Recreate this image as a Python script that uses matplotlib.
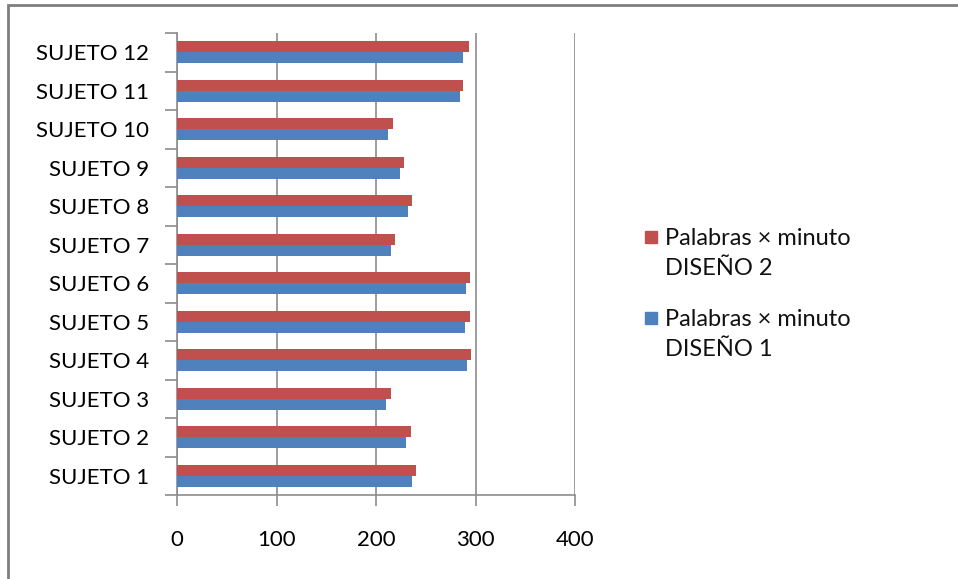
import numpy as np
import matplotlib.pyplot as plt
import matplotlib.patches as patches

# datos
sujetos = ['SUJETO 1', 'SUJETO 2', 'SUJETO 3', 'SUJETO 4', 'SUJETO 5', 'SUJETO 6',
           'SUJETO 7', 'SUJETO 8', 'SUJETO 9', 'SUJETO 10', 'SUJETO 11', 'SUJETO 12']
diseno1 = [236, 230, 210, 291, 289, 290, 215, 232, 224, 212, 284, 287]
diseno2 = [240, 235, 215, 295, 294, 294, 219, 236, 228, 217, 287, 293]
xticks = [0, 100, 200, 300, 400]

rojo = '#C0504D'
azul = '#4F81BD'
gris = '#8C8C8C'

plt.rcParams['font.family'] = ['Lato', 'DejaVu Sans']

fig = plt.figure(figsize=(9.58, 5.79), dpi=100, facecolor='white')
ax = fig.add_axes([177 / 958, 1 - 495 / 579, 398 / 958, 462 / 579])

y = np.arange(len(sujetos))
h = 0.28
ax.barh(y - h / 2, diseno1, height=h, color=azul, zorder=3)
ax.barh(y + h / 2, diseno2, height=h, color=rojo, zorder=3)

ax.set_xlim(0, 400)
ax.set_ylim(-0.5, len(sujetos) - 0.5)
ax.set_xticks(xticks)
ax.set_xticklabels([str(t) for t in xticks], fontsize=16)
ax.set_yticks(y)
ax.set_yticklabels(sujetos, fontsize=16)
ax.set_yticks(np.arange(-0.5, len(sujetos)), minor=True)

ax.xaxis.grid(True, color=gris, linewidth=1.2, zorder=0)
ax.tick_params(axis='x', length=8, width=1.2, color=gris, pad=17)
ax.tick_params(axis='y', which='major', length=0, pad=20)
ax.tick_params(axis='y', which='minor', length=9, width=1.2, color=gris)

for s in ['top', 'right']:
    ax.spines[s].set_visible(False)
for s in ['left', 'bottom']:
    ax.spines[s].set_color(gris)
    ax.spines[s].set_linewidth(1.2)

# leyenda a mano (estilo Excel, marcador alineado con la primera línea)
entradas = [('Palabras × minuto\nDISEÑO 2', rojo, 237),
            ('Palabras × minuto\nDISEÑO 1', azul, 318)]
for texto, color, ypx in entradas:
    fig.patches.append(patches.Rectangle((645 / 958, 1 - (ypx + 6) / 579), 12 / 958, 12 / 579,
                                         transform=fig.transFigure, color=color))
    fig.text(665 / 958, 1 - (ypx - 9) / 579, texto, fontsize=17, va='top',
             ha='left', linespacing=1.55, color='#111111')

# marco exterior del gráfico
fig.patches.append(patches.Rectangle((8 / 958, -0.05), 1.1, 1 - 5 / 579 + 0.05,
                                     transform=fig.transFigure, fill=False,
                                     edgecolor='#7f7f7f', linewidth=2))

fig.savefig('out.png', dpi=100)
